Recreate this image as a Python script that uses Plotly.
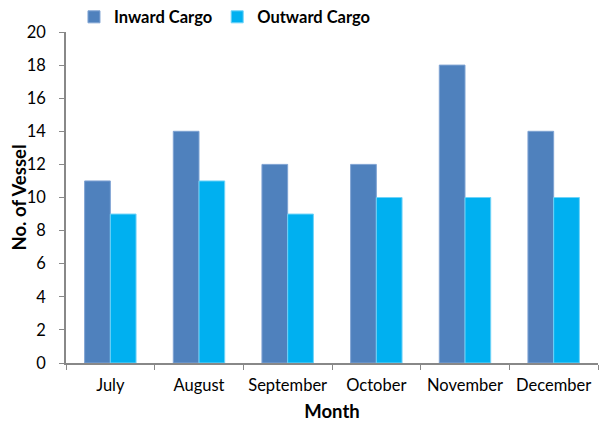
import plotly.graph_objects as go

months = ["July", "August", "September", "October", "November", "December"]
inward = [11, 14, 12, 12, 18, 14]
outward = [9, 11, 9, 10, 10, 10]
y_ticks = list(range(0, 21, 2))

FONT = "Lato, Open Sans, sans-serif"

fig = go.Figure()
fig.add_trace(go.Bar(name="<b>Inward Cargo</b>", x=months, y=inward,
                     marker=dict(color="#4F81BD", line=dict(color="#7FA3D3", width=1))))
fig.add_trace(go.Bar(name="<b>Outward Cargo</b>", x=months, y=outward,
                     marker=dict(color="#00B0F0", line=dict(color="#6FD3F8", width=1))))

fig.update_layout(
    width=608, height=425,
    margin=dict(l=58, r=18, t=24, b=70, autoexpand=False),
    paper_bgcolor="white", plot_bgcolor="white",
    barmode="group", bargap=0.42, bargroupgap=0,
    font=dict(family=FONT, size=16.5, color="black"),
    showlegend=True,
    legend=dict(orientation="h", x=0.015, y=1.045, xanchor="left", yanchor="middle",
                font=dict(size=16.5), itemwidth=30, traceorder="normal"),
    xaxis=dict(showline=True, linecolor="#888888", linewidth=1.5,
               ticks="outside", tickson="boundaries", ticklen=5, tickcolor="#888888",
               ticklabelstandoff=6,
               title=dict(text="<b>Month</b>", font=dict(size=18.5), standoff=12),
               showgrid=False),
    yaxis=dict(range=[0, 20], tickvals=y_ticks, showline=True, linecolor="#888888",
               linewidth=1.5, ticks="outside", ticklen=5, tickcolor="#888888",
               ticklabelstandoff=10,
               title=dict(text="<b>No. of Vessel</b>", font=dict(size=18.5), standoff=2),
               showgrid=False, zeroline=False),
)

fig.write_html("out.html")
